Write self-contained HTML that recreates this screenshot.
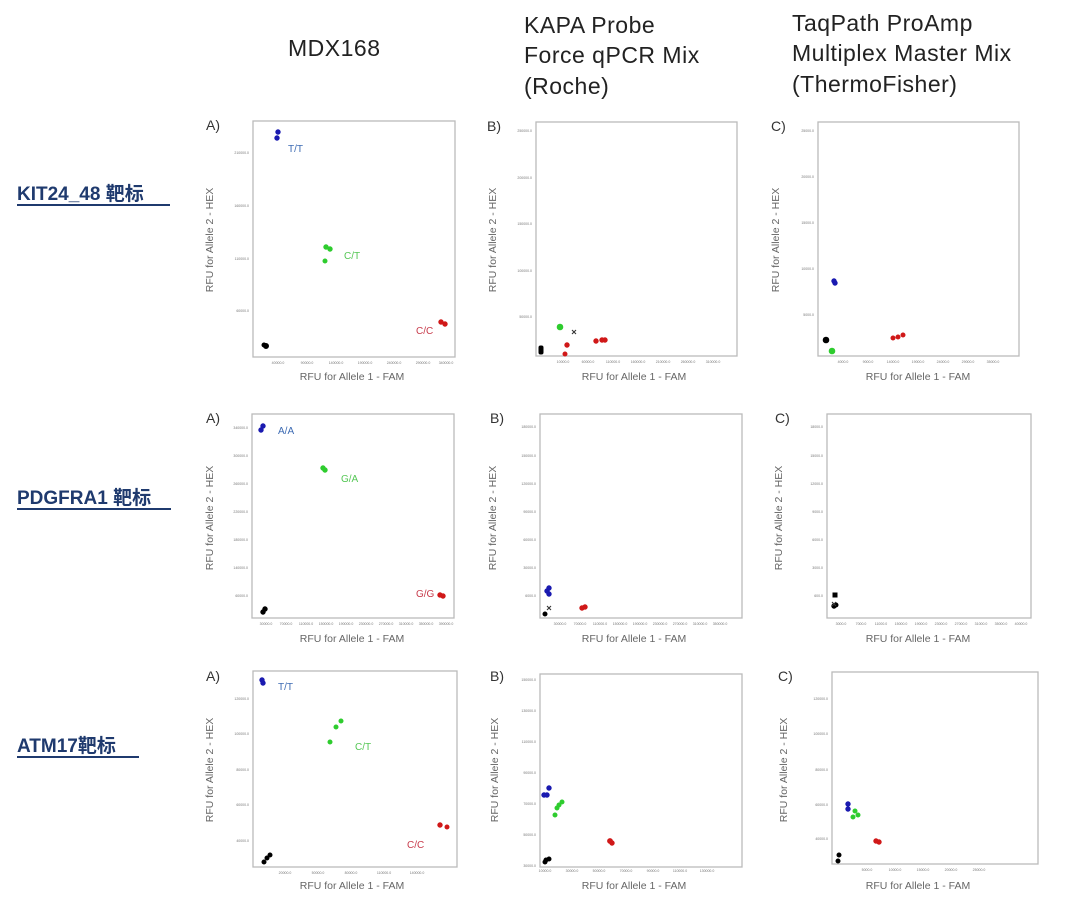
<!DOCTYPE html>
<html><head><meta charset="utf-8"><style>
body{margin:0;background:#fff;width:1080px;height:897px;overflow:hidden}
svg{display:block}
.h{font-family:"Liberation Sans","DejaVu Sans",sans-serif;font-size:23px;fill:#222;letter-spacing:0.5px}
.rl{font-family:"Liberation Sans","Noto Sans CJK SC",sans-serif;font-size:19px;font-weight:bold;fill:#1f3a6e}
.ax{font-family:"Liberation Sans",sans-serif;font-size:10.5px;fill:#666}
.pl{font-family:"Liberation Sans",sans-serif;font-size:14px;fill:#333}
.tk{font-family:"Liberation Sans",sans-serif;font-size:3.5px;fill:#777}
.gl{font-family:"Liberation Sans",sans-serif;font-size:10px}
</style></head><body>
<svg width="1080" height="897" xmlns="http://www.w3.org/2000/svg">
<text class="h" x="288" y="56">MDX168</text>
<text class="h" x="524" y="33">KAPA Probe</text>
<text class="h" x="524" y="63">Force qPCR Mix</text>
<text class="h" x="524" y="94">(Roche)</text>
<text class="h" x="792" y="31">TaqPath ProAmp</text>
<text class="h" x="792" y="61">Multiplex Master Mix</text>
<text class="h" x="792" y="92">(ThermoFisher)</text>

<text class="rl" x="17" y="200">KIT24_48 靶标</text><rect x="17" y="204" width="153" height="2" fill="#1f3a6e"/>
<text class="rl" x="17" y="504">PDGFRA1 靶标</text><rect x="17" y="508" width="154" height="2" fill="#1f3a6e"/>
<text class="rl" x="17" y="752">ATM17靶标</text><rect x="17" y="756" width="122" height="2" fill="#1f3a6e"/>

<g fill="none" stroke="#bbb" stroke-width="1.3">
<rect x="253" y="121" width="202" height="236"/>
<rect x="536" y="122" width="201" height="234"/>
<rect x="818" y="122" width="201" height="234"/>
<rect x="252" y="414" width="202" height="204"/>
<rect x="540" y="414" width="202" height="204"/>
<rect x="827" y="414" width="204" height="204"/>
<rect x="253" y="671" width="204" height="196"/>
<rect x="540" y="674" width="202" height="193"/>
<rect x="832" y="672" width="206" height="192"/>
</g>

<g class="pl">
<text x="206" y="130">A)</text><text x="487" y="131">B)</text><text x="771" y="131">C)</text>
<text x="206" y="423">A)</text><text x="490" y="423">B)</text><text x="775" y="423">C)</text>
<text x="206" y="681">A)</text><text x="490" y="681">B)</text><text x="778" y="681">C)</text>
</g>

<g class="ax" text-anchor="middle">
<text x="352" y="380">RFU for Allele 1 - FAM</text>
<text x="634" y="380">RFU for Allele 1 - FAM</text>
<text x="918" y="380">RFU for Allele 1 - FAM</text>
<text x="352" y="642">RFU for Allele 1 - FAM</text>
<text x="634" y="642">RFU for Allele 1 - FAM</text>
<text x="918" y="642">RFU for Allele 1 - FAM</text>
<text x="352" y="889">RFU for Allele 1 - FAM</text>
<text x="634" y="889">RFU for Allele 1 - FAM</text>
<text x="918" y="889">RFU for Allele 1 - FAM</text>
<text transform="translate(213,240) rotate(-90)">RFU for Allele 2 - HEX</text>
<text transform="translate(496,240) rotate(-90)">RFU for Allele 2 - HEX</text>
<text transform="translate(779,240) rotate(-90)">RFU for Allele 2 - HEX</text>
<text transform="translate(213,518) rotate(-90)">RFU for Allele 2 - HEX</text>
<text transform="translate(496,518) rotate(-90)">RFU for Allele 2 - HEX</text>
<text transform="translate(782,518) rotate(-90)">RFU for Allele 2 - HEX</text>
<text transform="translate(213,770) rotate(-90)">RFU for Allele 2 - HEX</text>
<text transform="translate(498,770) rotate(-90)">RFU for Allele 2 - HEX</text>
<text transform="translate(787,770) rotate(-90)">RFU for Allele 2 - HEX</text>
</g>

<g class="tk" text-anchor="end">
<text x="249" y="154">210000.0</text><text x="249" y="207">160000.0</text><text x="249" y="260">110000.0</text><text x="249" y="312">60000.0</text>
<text x="532" y="132">250000.0</text><text x="532" y="179">200000.0</text><text x="532" y="225">150000.0</text><text x="532" y="272">100000.0</text><text x="532" y="318">50000.0</text>
<text x="814" y="132">25000.0</text><text x="814" y="178">20000.0</text><text x="814" y="224">15000.0</text><text x="814" y="270">10000.0</text><text x="814" y="316">5000.0</text>
<text x="248" y="429">340000.0</text><text x="248" y="457">300000.0</text><text x="248" y="485">260000.0</text><text x="248" y="513">220000.0</text><text x="248" y="541">180000.0</text><text x="248" y="569">140000.0</text><text x="248" y="597">60000.0</text>
<text x="536" y="428">180000.0</text><text x="536" y="457">150000.0</text><text x="536" y="485">120000.0</text><text x="536" y="513">90000.0</text><text x="536" y="541">60000.0</text><text x="536" y="569">30000.0</text><text x="536" y="597">6000.0</text>
<text x="823" y="428">18000.0</text><text x="823" y="457">15000.0</text><text x="823" y="485">12000.0</text><text x="823" y="513">9000.0</text><text x="823" y="541">6000.0</text><text x="823" y="569">3000.0</text><text x="823" y="597">600.0</text>
<text x="249" y="700">120000.0</text><text x="249" y="735">100000.0</text><text x="249" y="771">80000.0</text><text x="249" y="806">60000.0</text><text x="249" y="842">40000.0</text>
<text x="536" y="681">150000.0</text><text x="536" y="712">130000.0</text><text x="536" y="743">110000.0</text><text x="536" y="774">90000.0</text><text x="536" y="805">70000.0</text><text x="536" y="836">50000.0</text><text x="536" y="867">30000.0</text>
<text x="828" y="700">120000.0</text><text x="828" y="735">100000.0</text><text x="828" y="771">80000.0</text><text x="828" y="806">60000.0</text><text x="828" y="840">40000.0</text>
</g>
<g class="tk" text-anchor="middle">
<text x="278" y="364">40000.0</text><text x="307" y="364">90000.0</text><text x="336" y="364">140000.0</text><text x="365" y="364">190000.0</text><text x="394" y="364">240000.0</text><text x="423" y="364">290000.0</text><text x="446" y="364">340000.0</text>
<text x="563" y="363">10000.0</text><text x="588" y="363">60000.0</text><text x="613" y="363">110000.0</text><text x="638" y="363">160000.0</text><text x="663" y="363">210000.0</text><text x="688" y="363">260000.0</text><text x="713" y="363">310000.0</text>
<text x="843" y="363">4000.0</text><text x="868" y="363">9000.0</text><text x="893" y="363">14000.0</text><text x="918" y="363">19000.0</text><text x="943" y="363">24000.0</text><text x="968" y="363">29000.0</text><text x="993" y="363">35000.0</text>
<text x="266" y="625">30000.0</text><text x="286" y="625">70000.0</text><text x="306" y="625">110000.0</text><text x="326" y="625">150000.0</text><text x="346" y="625">190000.0</text><text x="366" y="625">230000.0</text><text x="386" y="625">270000.0</text><text x="406" y="625">310000.0</text><text x="426" y="625">350000.0</text><text x="446" y="625">390000.0</text>
<text x="560" y="625">30000.0</text><text x="580" y="625">70000.0</text><text x="600" y="625">110000.0</text><text x="620" y="625">150000.0</text><text x="640" y="625">190000.0</text><text x="660" y="625">230000.0</text><text x="680" y="625">270000.0</text><text x="700" y="625">310000.0</text><text x="720" y="625">350000.0</text>
<text x="841" y="625">3000.0</text><text x="861" y="625">7000.0</text><text x="881" y="625">11000.0</text><text x="901" y="625">15000.0</text><text x="921" y="625">19000.0</text><text x="941" y="625">23000.0</text><text x="961" y="625">27000.0</text><text x="981" y="625">31000.0</text><text x="1001" y="625">35000.0</text><text x="1021" y="625">40000.0</text>
<text x="285" y="874">20000.0</text><text x="318" y="874">50000.0</text><text x="351" y="874">80000.0</text><text x="384" y="874">110000.0</text><text x="417" y="874">140000.0</text>
<text x="545" y="872">10000.0</text><text x="572" y="872">30000.0</text><text x="599" y="872">50000.0</text><text x="626" y="872">70000.0</text><text x="653" y="872">90000.0</text><text x="680" y="872">110000.0</text><text x="707" y="872">130000.0</text>
<text x="867" y="871">5000.0</text><text x="895" y="871">10000.0</text><text x="923" y="871">15000.0</text><text x="951" y="871">20000.0</text><text x="979" y="871">25000.0</text>
</g>

<g fill="#1a1ab0" stroke="#1a1ab0" stroke-width="1">
<circle cx="278" cy="132" r="2.2"/><circle cx="277" cy="138" r="2.2"/>
<circle cx="834" cy="281" r="2.2"/><circle cx="835" cy="283" r="2.2"/>
<circle cx="263" cy="426" r="2.2"/><circle cx="261" cy="430" r="2.2"/>
<circle cx="549" cy="588" r="2.2"/><circle cx="549" cy="594" r="2.2"/><circle cx="547" cy="591" r="2.2"/>
<circle cx="262" cy="680" r="2.2"/><circle cx="263" cy="683" r="2.2"/>
<circle cx="544" cy="795" r="2.2"/><circle cx="547" cy="795" r="2.2"/><circle cx="549" cy="788" r="2.2"/>
<circle cx="848" cy="804" r="2.2"/><circle cx="848" cy="809" r="2.2"/>
</g>
<g fill="#2ecc2e" stroke="#2ecc2e" stroke-width="1">
<circle cx="326" cy="247" r="2.2"/><circle cx="330" cy="249" r="2.2"/><circle cx="325" cy="261" r="2"/>
<circle cx="560" cy="327" r="2.8"/>
<circle cx="832" cy="351" r="2.8"/>
<circle cx="323" cy="468" r="2.2"/><circle cx="325" cy="470" r="2.2"/>
<circle cx="341" cy="721" r="2"/><circle cx="336" cy="727" r="2"/><circle cx="330" cy="742" r="2"/>
<circle cx="559" cy="805" r="2"/><circle cx="562" cy="802" r="2"/><circle cx="557" cy="808" r="2"/><circle cx="555" cy="815" r="2"/>
<circle cx="855" cy="811" r="2"/><circle cx="858" cy="815" r="2"/><circle cx="853" cy="817" r="2"/>
</g>
<g fill="#d01818" stroke="#d01818" stroke-width="1">
<circle cx="441" cy="322" r="2.2"/><circle cx="445" cy="324" r="2.2"/>
<circle cx="567" cy="345" r="2.2"/><circle cx="565" cy="354" r="2"/><circle cx="596" cy="341" r="2.2"/><circle cx="602" cy="340" r="2.2"/><circle cx="605" cy="340" r="2.2"/>
<circle cx="893" cy="338" r="2"/><circle cx="898" cy="337" r="2"/><circle cx="903" cy="335" r="2"/>
<circle cx="443" cy="596" r="2.2"/><circle cx="440" cy="595" r="2.2"/>
<circle cx="582" cy="608" r="2.2"/><circle cx="585" cy="607" r="2.2"/>
<circle cx="440" cy="825" r="2.2"/><circle cx="447" cy="827" r="2"/>
<circle cx="610" cy="841" r="2.4"/><circle cx="612" cy="843" r="2.2"/>
<circle cx="876" cy="841" r="2.2"/><circle cx="879" cy="842" r="2.2"/>
</g>
<g fill="#000" stroke="#000" stroke-width="1">
<circle cx="266" cy="346" r="2.5"/><circle cx="264" cy="345" r="2"/>
<rect x="539" y="346" width="4" height="8" rx="1.5"/>
<circle cx="826" cy="340" r="2.8"/>
<circle cx="265" cy="609" r="2.2"/><circle cx="263" cy="612" r="2.2"/>
<circle cx="545" cy="614" r="2"/>
<rect x="833" y="593" width="4" height="4"/><circle cx="834" cy="606" r="2.2"/><circle cx="836" cy="605" r="2"/>
<circle cx="270" cy="855" r="2"/><circle cx="267" cy="858" r="2"/><circle cx="264" cy="862" r="2"/>
<circle cx="546" cy="860" r="2"/><circle cx="545" cy="862" r="2"/><circle cx="549" cy="859" r="2"/>
<circle cx="839" cy="855" r="2"/><circle cx="838" cy="861" r="2"/>
</g>
<g stroke="#333" stroke-width="1.1">
<path d="M572 330l4 4M576 330l-4 4"/>
<path d="M547 606l4 4M551 606l-4 4"/>
<path d="M832 602l4 4M836 602l-4 4"/>
</g>

<g class="gl">
<text x="288" y="152" fill="#3d6bb3">T/T</text>
<text x="344" y="259" fill="#55c755">C/T</text>
<text x="416" y="334" fill="#c83c4c">C/C</text>
<text x="278" y="434" fill="#3d6bb3">A/A</text>
<text x="341" y="482" fill="#55c755">G/A</text>
<text x="416" y="597" fill="#c83c4c">G/G</text>
<text x="278" y="690" fill="#3d6bb3">T/T</text>
<text x="355" y="750" fill="#55c755">C/T</text>
<text x="407" y="848" fill="#c83c4c">C/C</text>
</g>
</svg>
</body></html>
